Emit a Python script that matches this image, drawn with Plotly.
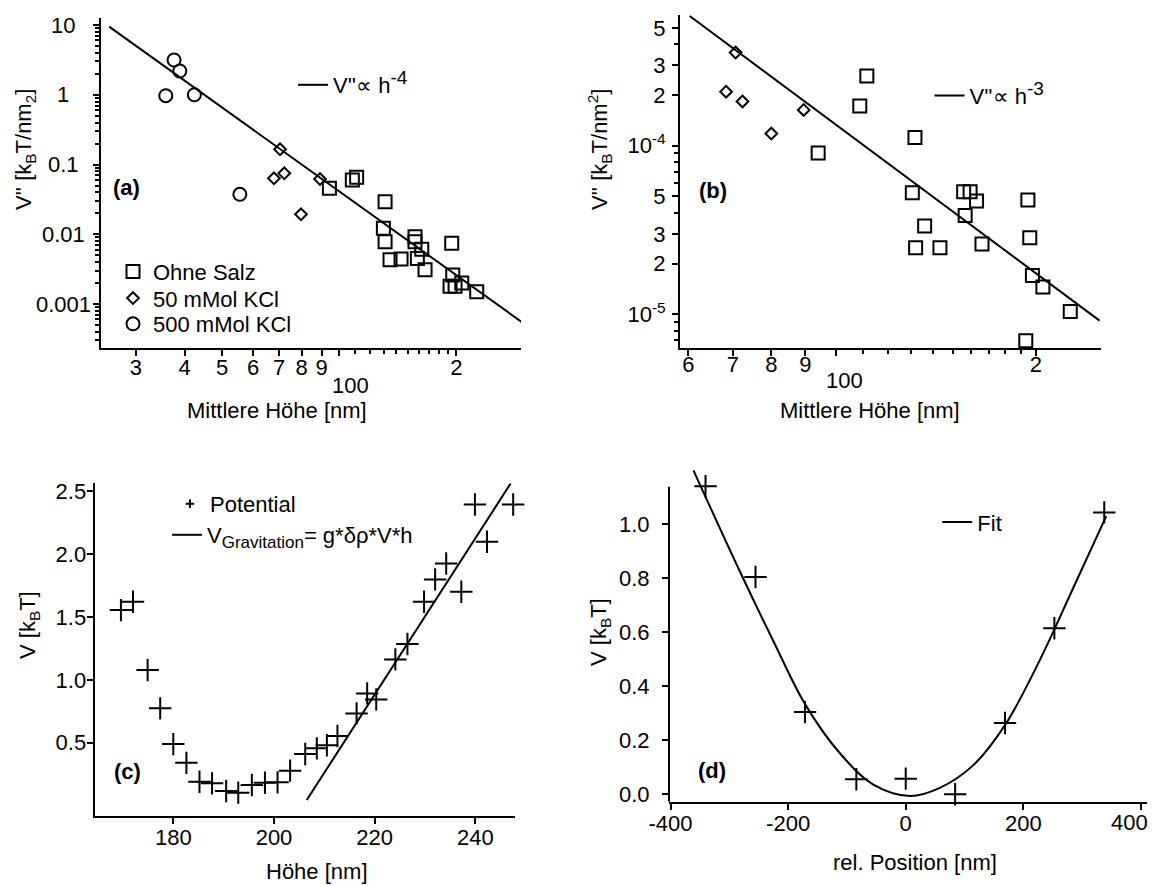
import math
import plotly.graph_objects as go

W, H = 1158, 886
FONT = "Liberation Sans, Arial, sans-serif"

# ---------------- data ----------------
# (a) V'' vs mean height, log-log
a_ohne_x = [94.3, 108.0, 110.8, 131.1, 129.8, 131.1, 135.0, 144.1, 156.5, 156.5, 162.9, 158.7,
            166.1, 194.5, 195.7, 192.6, 198.4, 206.4, 225.5]
a_ohne_y = [0.0456, 0.060, 0.0655, 0.0293, 0.0122, 0.0078, 0.0043, 0.0044, 0.0092, 0.0078, 0.0061,
            0.0045, 0.0031, 0.0074, 0.0026, 0.0018, 0.0018, 0.0020, 0.0015]
a_50_x = [70.4, 67.9, 72.2, 79.7, 89.2]
a_50_y = [0.165, 0.0634, 0.0748, 0.0193, 0.0619]
a_500_x = [35.8, 37.6, 38.9, 42.4, 55.5]
a_500_y = [0.97, 3.15, 2.19, 1.0, 0.0374]
a_fit_x = [25.6, 296]
a_fit_y = [9.46, 0.00054]
a_ytick_vals = [0.001, 0.01, 0.1, 1, 10]
a_ytick_text = ["0.001", "0.01", "0.1", "1", "10"]

# (b)
b_ohne_x = [94.1, 108.7, 111.4, 131.6, 130.4, 131.9, 136.1, 143.5, 155.8, 159.3, 156.6, 162.9,
            166.0, 194.6, 195.9, 197.7, 205.0, 225.4, 193.2]
b_ohne_y = [9.05e-5, 1.72e-4, 2.59e-4, 1.12e-4, 5.26e-5, 2.48e-5, 3.34e-5, 2.48e-5, 5.34e-5, 5.34e-5,
            3.85e-5, 4.70e-5, 2.61e-5, 4.77e-5, 2.84e-5, 1.70e-5, 1.45e-5, 1.04e-5, 6.97e-6]
b_50_x = [70.7, 68.4, 72.4, 80.0, 89.5]
b_50_y = [3.57e-4, 2.09e-4, 1.83e-4, 1.18e-4, 1.63e-4]
b_fit_x = [60.3, 249.5]
b_fit_y = [5.88e-4, 9.17e-6]

# (c) potential vs height
c_x = [169.6, 172.0, 174.9, 177.4, 180.0, 182.6, 185.2, 187.7, 190.5, 192.9, 195.6, 198.2, 200.7,
       203.2, 206.2, 208.5, 210.5, 212.6, 216.4, 218.5, 220.3, 224.1, 226.5, 229.8, 232.0, 234.2,
       237.2, 239.9, 242.3, 247.5]
c_y = [1.554, 1.620, 1.077, 0.773, 0.489, 0.34, 0.19, 0.177, 0.116, 0.103, 0.164, 0.182, 0.185,
       0.278, 0.41, 0.455, 0.48, 0.553, 0.733, 0.892, 0.844, 1.162, 1.284, 1.62, 1.798, 1.925,
       1.70, 2.394, 2.097, 2.394]
c_fit_x = [206.5, 247.0]
c_fit_y = [0.044, 2.561]

# (d) potential vs relative position
d_x = [-340.5, -255.5, -171.3, -84.0, 0.0, 84.0, 168.8, 252.8, 337.6]
d_y = [1.141, 0.805, 0.305, 0.056, 0.058, 0.0, 0.264, 0.615, 1.044]
d_fit_x = [-361, -282, -225, -171, -112, -55, 7, 58, 115, 169, 228, 285, 341]
d_fit_y = [1.20, 0.825, 0.567, 0.333, 0.152, 0.036, -0.006, 0.024, 0.108, 0.257, 0.497, 0.765, 1.03]

# ---------------- helpers ----------------
def dx(l, r):
    return [l / W, r / W]

def dy(t, b):
    return [1 - b / H, 1 - t / H]

def px(x):
    return x / W

def py(y):
    return 1 - y / H

BLACK = "black"
fig = go.Figure()

sq = dict(symbol="square-open", size=13, color=BLACK, line=dict(width=2, color=BLACK))
di = dict(symbol="diamond-open", size=9, color=BLACK, line=dict(width=2, color=BLACK))
ci = dict(symbol="circle-open", size=13, color=BLACK, line=dict(width=2, color=BLACK))
cr = dict(symbol="cross-thin-open", size=16, color=BLACK, line=dict(width=2, color=BLACK))
cr_small = dict(symbol="cross-thin-open", size=6, color=BLACK, line=dict(width=2, color=BLACK))

SUP = "<sup><span style='font-size:19px'>%s</span></sup>"

# (a)
fig.add_trace(go.Scatter(x=a_ohne_x, y=a_ohne_y, mode="markers", marker=sq, name="Ohne Salz",
                         xaxis="x", yaxis="y", legend="legend", cliponaxis=False))
fig.add_trace(go.Scatter(x=a_50_x, y=a_50_y, mode="markers", marker=di, name="50 mMol KCl",
                         xaxis="x", yaxis="y", legend="legend2", cliponaxis=False))
fig.add_trace(go.Scatter(x=a_500_x, y=a_500_y, mode="markers", marker=ci, name="500 mMol KCl",
                         xaxis="x", yaxis="y", legend="legend3", cliponaxis=False))
fig.add_trace(go.Scatter(x=a_fit_x, y=a_fit_y, mode="lines", line=dict(color=BLACK, width=2),
                         name="V''\u221d h" + SUP % "-4", xaxis="x", yaxis="y", legend="legend4"))
# (b)
fig.add_trace(go.Scatter(x=b_ohne_x, y=b_ohne_y, mode="markers", marker=sq, showlegend=False,
                         xaxis="x2", yaxis="y2", cliponaxis=False))
fig.add_trace(go.Scatter(x=b_50_x, y=b_50_y, mode="markers", marker=di, showlegend=False,
                         xaxis="x2", yaxis="y2", cliponaxis=False))
fig.add_trace(go.Scatter(x=b_fit_x, y=b_fit_y, mode="lines", line=dict(color=BLACK, width=2),
                         name="V''\u221d h" + SUP % "-3", xaxis="x2", yaxis="y2", legend="legend5"))
# (c)
fig.add_trace(go.Scatter(x=c_x, y=c_y, mode="markers", marker=cr, name="Potential", showlegend=False,
                         xaxis="x3", yaxis="y3", cliponaxis=False))
# legend entry for the potential markers (drawn small, as in the original legend)
fig.add_trace(go.Scatter(x=[None], y=[None], mode="markers", marker=cr_small, name="Potential",
                         xaxis="x3", yaxis="y3", legend="legend6"))
fig.add_trace(go.Scatter(x=c_fit_x, y=c_fit_y, mode="lines", line=dict(color=BLACK, width=2),
                         name="V<sub><span style='font-size:17px'>Gravitation</span></sub>= g*\u03b4\u03c1*V*h",
                         xaxis="x3", yaxis="y3", legend="legend8"))
# (d)
fig.add_trace(go.Scatter(x=d_x, y=d_y, mode="markers", marker=cr, showlegend=False,
                         xaxis="x4", yaxis="y4", cliponaxis=False))
fig.add_trace(go.Scatter(x=d_fit_x, y=d_fit_y, mode="lines",
                         line=dict(color=BLACK, width=2, shape="spline", smoothing=1.0),
                         name="Fit", xaxis="x4", yaxis="y4", legend="legend7"))

tickfont = dict(family=FONT, size=22, color=BLACK)

def ax(**kw):
    base = dict(showgrid=False, zeroline=False, showline=True, linecolor=BLACK, linewidth=2,
                ticks="outside", ticklen=6, tickwidth=2, tickcolor=BLACK, tickfont=tickfont,
                automargin=False)
    base.update(kw)
    return base

def minor_log(lo_exp, hi_exp):
    return [k * 10.0 ** e for e in range(lo_exp, hi_exp + 1) for k in range(2, 10)]

minor_style = dict(ticks="outside", ticklen=4, tickwidth=1.5, tickcolor=BLACK)

layout = dict(
    width=W, height=H, margin=dict(l=0, r=0, t=0, b=0),
    paper_bgcolor="white", plot_bgcolor="white",
    font=dict(family=FONT, size=22, color=BLACK),
)

# (a) axes
layout["xaxis"] = ax(type="log", range=[1.3866, 2.467], domain=dx(100.7, 521), anchor="y",
                     tickvals=[30, 40, 50, 60, 70, 80, 90, 100, 200],
                     ticktext=["3", "4", "5", "6", "7", "8", "9", "", "2"],
                     minor=dict(tickvals=[110, 120, 130, 140, 150, 160, 170, 180, 190], **minor_style),
                     ticklabelstandoff=-7)
layout["yaxis"] = ax(type="log", range=[-3.6308, 1.1004], domain=dy(18, 348), anchor="x",
                     tickvals=a_ytick_vals, ticktext=[""] * len(a_ytick_vals),
                     minor=dict(tickvals=minor_log(-4, 1), **minor_style))
# (b) axes
layout["xaxis2"] = ax(type="log", range=[1.7657, 2.3992], domain=dx(680, 1101), anchor="y2",
                      tickvals=[60, 70, 80, 90, 100, 200],
                      ticktext=["6", "7", "8", "9", "", "2"],
                      minor=dict(tickvals=[110, 120, 130, 140, 150, 160, 170, 180, 190], **minor_style),
                      ticklabelstandoff=-11)
layout["yaxis2"] = ax(type="log", range=[-5.2017, -3.2248], domain=dy(15, 348.3), anchor="x2",
                      tickvals=[1e-5, 2e-5, 3e-5, 5e-5, 1e-4, 2e-4, 3e-4, 5e-4],
                      ticktext=["10<sup>-5</sup>", "2", "3", "5", "10<sup>-4</sup>", "2", "3", "5"],
                      minor=dict(tickvals=[v for v in minor_log(-6, -4)
                                           if v not in (2e-5, 3e-5, 5e-5, 2e-4, 3e-4, 5e-4)],
                                 **minor_style),
                      ticklabelstandoff=2)
# (c) axes
layout["xaxis3"] = ax(range=[164.37, 247.94], domain=dx(94.6, 515.4), anchor="y3",
                      tickvals=[180, 200, 220, 240], ticklabelstandoff=-5)
layout["yaxis3"] = ax(range=[-0.0787, 2.562], domain=dy(483.3, 815.5), anchor="x3",
                      tickvals=[0.5, 1.0, 1.5, 2.0, 2.5], ticktext=["0.5", "1.0", "1.5", "2.0", "2.5"],
                      ticklabelstandoff=-4)
# (d) axes
layout["xaxis4"] = ax(range=[-402.6, 409.8], domain=dx(669, 1146.7), anchor="y4",
                      tickvals=[-400, -200, 0, 200, 400], ticktext=["-400", "-200", "0", "200", ""],
                      ticklabelstandoff=-5)
layout["yaxis4"] = ax(range=[-0.0274, 1.21], domain=dy(467.6, 801.7), anchor="x4", showline=False,
                      tickvals=[0, 0.2, 0.4, 0.6, 0.8, 1.0],
                      ticktext=["0.0", "0.2", "0.4", "0.6", "0.8", "1.0"],
                      ticklabelstandoff=8)

legfont = dict(family=FONT, size=22, color=BLACK)

def leg(xp, yp, **kw):
    d = dict(x=px(xp), y=py(yp), xanchor="left", yanchor="middle", xref="paper", yref="paper",
             bgcolor="rgba(0,0,0,0)", borderwidth=0, font=legfont, itemclick=False,
             itemdoubleclick=False)
    d.update(kw)
    return d

layout["legend"] = leg(113, 271.7)
layout["legend2"] = leg(113, 298.3)
layout["legend3"] = leg(113, 324)
layout["legend4"] = leg(293, 85)
layout["legend5"] = leg(929.5, 95.7)
layout["legend6"] = leg(170, 504)
layout["legend8"] = leg(167, 535)
layout["legend7"] = leg(937.3, 522.3)

ann = []

def text_at(text, xp, yp, angle=0, bold=False, xanchor="center"):
    ann.append(dict(text=("<b>%s</b>" % text) if bold else text, x=px(xp), y=py(yp),
                    xref="paper", yref="paper", showarrow=False, xanchor=xanchor,
                    yanchor="middle", textangle=angle,
                    font=dict(family=FONT, size=22, color=BLACK)))

# panel labels
text_at("(a)", 126.7, 188, bold=True)
text_at("(b)", 713, 190, bold=True)
text_at("(c)", 127.7, 771.7, bold=True)
text_at("(d)", 712, 770, bold=True)

# axis titles
text_at("Mittlere Höhe [nm]", 277, 410)
text_at("Mittlere Höhe [nm]", 870, 410)
text_at("Höhe [nm]", 317, 871)
text_at("rel. Position [nm]", 915, 862)
text_at("V'' [k<sub>B</sub>T/nm<sub>2</sub>]", 25, 150, angle=-90)
text_at("V'' [k<sub>B</sub>T/nm<sup>2</sup>]", 599, 150, angle=-90)
text_at("V [k<sub>B</sub>T]", 29, 625, angle=-90)
text_at("V [k<sub>B</sub>T]", 600, 632, angle=-90)

# (a) y tick labels, centred as in the original
for v, t in zip(a_ytick_vals, a_ytick_text):
    ann.append(dict(text=t, x=px(63), y=math.log10(v), xref="paper", yref="y", showarrow=False,
                    xanchor="center", yanchor="middle", font=tickfont))

# offset "100" tick labels on the log axes and the clipped "400"
ann.append(dict(text="100", x=2, y=py(386), xref="x", yref="paper", xshift=11, showarrow=False,
                xanchor="center", yanchor="middle", font=tickfont))
ann.append(dict(text="100", x=2, y=py(381), xref="x2", yref="paper", xshift=9, showarrow=False,
                xanchor="center", yanchor="middle", font=tickfont))
ann.append(dict(text="400", x=400, y=py(822), xref="x4", yref="paper", xshift=-11, showarrow=False,
                xanchor="center", yanchor="middle", font=tickfont))
layout["annotations"] = ann

# (d) y-axis line only up to the tick region (fit curve rises above it)
layout["shapes"] = [dict(type="line", xref="x4 domain", x0=0, x1=0, yref="y4", y0=-0.0274, y1=1.139,
                         line=dict(color=BLACK, width=2))]

fig.update_layout(**layout)
fig.write_html("out.html")
